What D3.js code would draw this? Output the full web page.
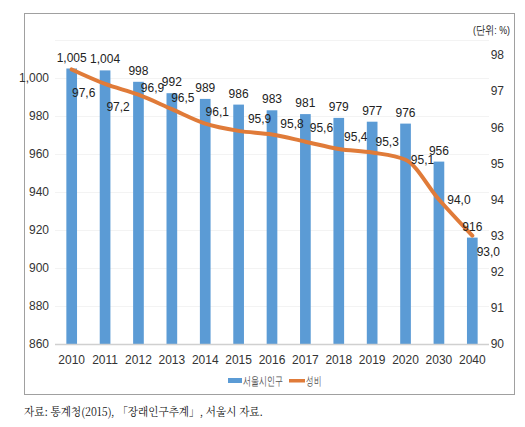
<!DOCTYPE html>
<html><head><meta charset="utf-8">
<script src="https://cdn.jsdelivr.net/npm/d3@7"></script>
<style>
body{margin:0;background:#fff;}
svg text{font-family:"Liberation Sans Narrow","Arial Narrow",sans-serif;}
</style></head>
<body><svg id="c" width="525" height="427"></svg>
<script>
const years = ["2010","2011","2012","2013","2014","2015","2016","2017","2018","2019","2020","2030","2040"];
const population = [1005,1004,998,992,989,986,983,981,979,977,976,956,916];
const sexRatio = [97.6,97.2,96.9,96.5,96.1,95.9,95.8,95.6,95.4,95.3,95.1,94.0,93.0];
const leftTicks = [860,880,900,920,940,960,980,1000];
const rightTicks = [90,91,92,93,94,95,96,97,98];
const seriesNames = ["서울시인구","성비"];
// label offsets (layout) for the line's data labels
const lineLabelDx = [12,13,14,11,12,21,20,16,17,15,17,20,16];
const lineLabelDy = [24,23,-7,-11,-12,-12,-10,-14,-12,-11,0,0,16];

const svg = d3.select("#c");
const blue = "#5B9BD5", orange = "#E07B39";
const pTop = 40, pBottom = 344, pLeft = 55, pRight = 489;

svg.append("rect").attr("x",24.5).attr("y",13.5).attr("width",490).attr("height",381)
  .attr("fill","none").attr("stroke","#a0a0a0");

const x = d3.scaleBand().domain(years).range([pLeft,pRight]).paddingInner(0.68).paddingOuter(0.34);
const yL = d3.scaleLinear().domain([860,1020]).range([pBottom,pTop]);
const yR = d3.scaleLinear().domain([90,90+(pBottom-pTop)/36.125]).range([pBottom,pTop]);

// faint gridlines
svg.append("g").selectAll("line").data(leftTicks.concat([1020])).join("line")
  .attr("x1",pLeft).attr("x2",pRight).attr("y1",d=>yL(d)+0.5).attr("y2",d=>yL(d)+0.5)
  .attr("stroke","#f3f3f3");

// bars
svg.append("g").selectAll("rect").data(population).join("rect")
  .attr("x",(d,i)=>x(years[i])).attr("width",x.bandwidth())
  .attr("y",d=>yL(d)).attr("height",d=>pBottom-yL(d)).attr("fill",blue);

// baseline
svg.append("line").attr("x1",pLeft).attr("x2",pRight).attr("y1",pBottom+0.5).attr("y2",pBottom+0.5)
  .attr("stroke","#d0d0d0").attr("stroke-width",1.5);

// left axis
const gL = svg.append("g").attr("transform",`translate(${pLeft-3},0)`)
  .call(d3.axisLeft(yL).tickValues(leftTicks).tickSize(0).tickFormat(d3.format(",")));
gL.select(".domain").remove();
gL.selectAll("text").attr("font-size",12).attr("fill","#333").attr("font-family",null);

// right axis
const gR = svg.append("g").attr("transform",`translate(${pRight+18},0)`)
  .call(d3.axisLeft(yR).tickValues(rightTicks).tickSize(0).tickFormat(d3.format("d")));
gR.select(".domain").remove();
gR.selectAll("text").attr("font-size",12).attr("fill","#333").attr("font-family",null);

// x axis
const gX = svg.append("g").attr("transform",`translate(0,${pBottom+8})`)
  .call(d3.axisBottom(x).tickSize(0));
gX.select(".domain").remove();
gX.selectAll("text").attr("font-size",12).attr("fill","#333").attr("font-family",null);

// line
const cx = i => x(years[i]) + x.bandwidth()/2;
svg.append("path").datum(sexRatio)
  .attr("d", d3.line().x((d,i)=>cx(i)).y(d=>yR(d)).curve(d3.curveMonotoneX))
  .attr("fill","none").attr("stroke",orange).attr("stroke-width",4).attr("stroke-linecap","round");

// bar labels
svg.append("g").selectAll("text").data(population).join("text")
  .attr("x",(d,i)=>cx(i)).attr("y",d=>yL(d)-7).attr("text-anchor","middle")
  .attr("font-size",12).attr("fill","#222").text(d3.format(","));

// line labels
svg.append("g").selectAll("text").data(sexRatio).join("text")
  .attr("x",(d,i)=>cx(i)+lineLabelDx[i]).attr("y",(d,i)=>yR(d)+lineLabelDy[i]+4)
  .attr("text-anchor","middle").attr("font-size",12).attr("fill","#222")
  .text(d=>d3.format(".1f")(d).replace(".",","));

// unit
svg.append("text").attr("x",473).attr("y",34).attr("textLength",37).attr("lengthAdjust","spacingAndGlyphs")
  .attr("font-size",11.5).attr("fill","#222").text("(단위: %)");

// legend
const lg = svg.append("g");
lg.append("rect").attr("x",228).attr("y",378).attr("width",14).attr("height",5).attr("fill",blue);
lg.append("text").attr("x",243).attr("y",385).attr("font-size",11.5).attr("fill","#555")
  .attr("textLength",40).attr("lengthAdjust","spacingAndGlyphs").text(seriesNames[0]);
lg.append("rect").attr("x",289).attr("y",379).attr("width",16).attr("height",3.5).attr("fill",orange);
lg.append("text").attr("x",306).attr("y",385).attr("font-size",11.5).attr("fill","#555")
  .attr("textLength",15).attr("lengthAdjust","spacingAndGlyphs").text(seriesNames[1]);

// source
svg.append("text").attr("x",24).attr("y",416).attr("font-size",11.5).attr("fill","#111")
  .attr("textLength",239).attr("lengthAdjust","spacingAndGlyphs")
  .style("font-family","'Noto Serif CJK KR','Noto Sans CJK KR',serif")
  .text("자료: 통계청(2015), 「장래인구추계」, 서울시 자료.");
</script></body></html>
